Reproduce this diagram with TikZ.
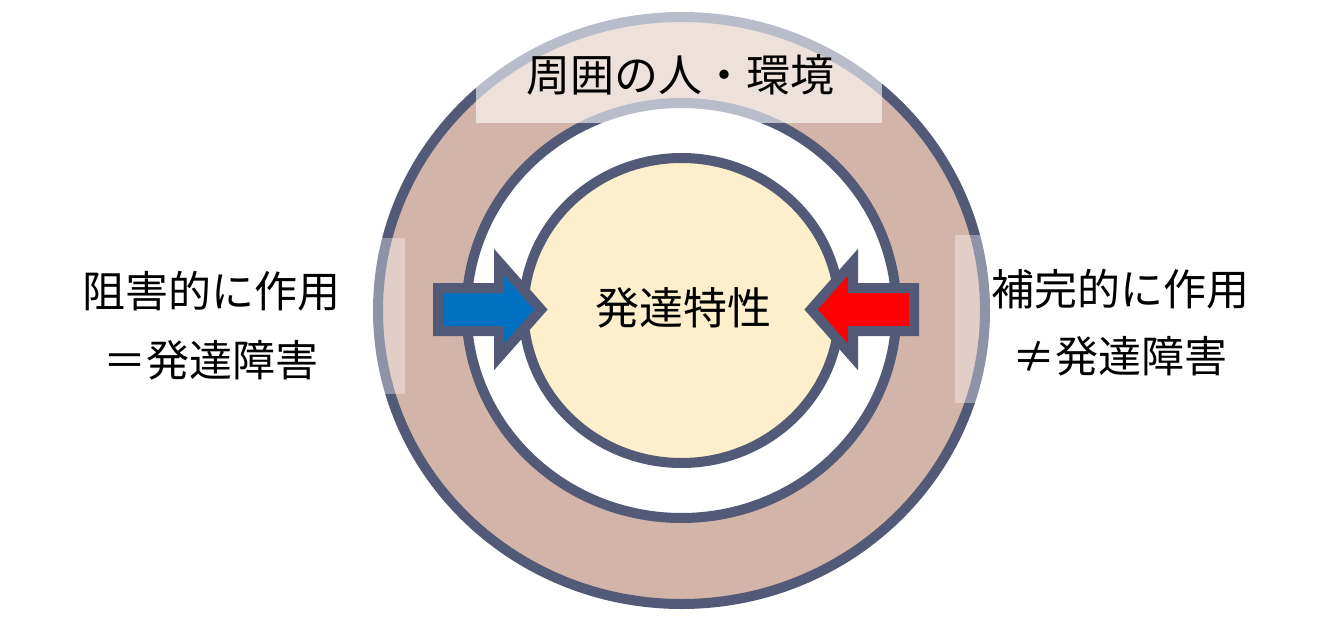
\documentclass[tikz,border=0pt]{standalone}
\usepackage{fontspec}
\setmainfont{Noto Sans CJK JP}
\usetikzlibrary{shapes.geometric}
\definecolor{bordo}{RGB}{82,90,120}
\definecolor{anello}{RGB}{211,180,169}
\definecolor{giallino}{RGB}{253,239,203}
\definecolor{frecciaBlu}{RGB}{0,112,192}
\begin{document}
\begin{tikzpicture}[x=1pt, y=-1pt,
    cerchio/.style={ellipse, draw=bordo, line width=10pt, inner sep=0pt},
    testo/.style={font=\fontsize{44}{69}\selectfont, align=center, inner sep=0pt}]
    \useasboundingbox (0,0) rectangle (1338,626);

    % Cerchi
    \foreach \n/\w/\h/\c in {ambiente/607/587/anello, spazio/430/415/white, sviluppo/316/305/giallino} {
        \node[cerchio, fill=\c, minimum width=\w pt, minimum height=\h pt] (\n) at (681.5,310.5) {};
    }

    % Frecce
    \foreach \bx/\d/\c in {438/1/frecciaBlu, 914/-1/red} {
        \draw[line width=10pt, draw=bordo, fill=\c] (\bx,288) -- ++(61*\d,0) -- ++(0,-26)
            -- ++(42*\d,47.5) -- ++(-42*\d,47.5) -- ++(0,-26) -- ++(-61*\d,0) -- cycle;
    }

    % Riquadri trasparenti
    \fill[white, opacity=0.6] (476,0) rectangle (882,123);
    \fill[white, opacity=0.35] (370,238) rectangle (405,394);
    \fill[white, opacity=0.35] (955,235) rectangle (995,403);

    % Testi
    \node[testo] (titoloAmbiente) at (680,75) {周囲の人・環境};
    \node[testo] (titoloSviluppo) at (683,308) {発達特性};
    \node[testo, font=\fontsize{43}{69}\selectfont] (ostacolo) at (211,326) {阻害的に作用\\＝発達障害};
    \node[testo, font=\fontsize{43}{67}\selectfont] (complemento) at (1120,323) {補完的に作用\\≠発達障害};
\end{tikzpicture}
\end{document}
